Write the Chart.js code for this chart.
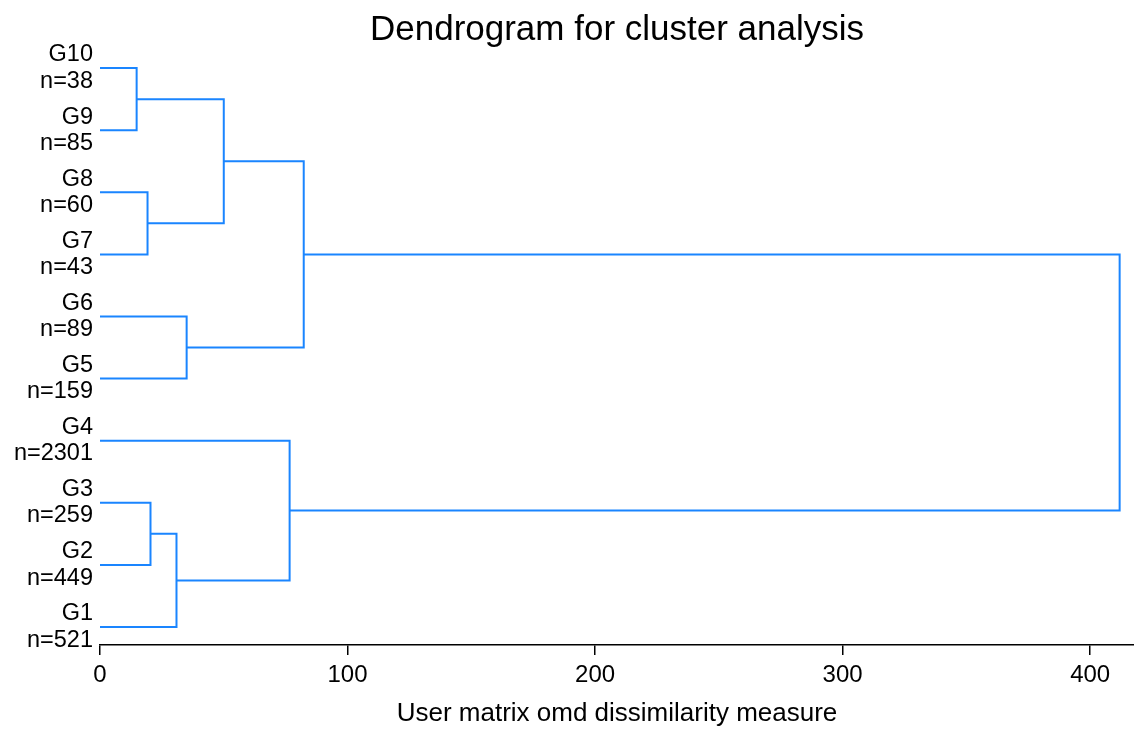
<!DOCTYPE html>
<html>
<head>
<meta charset="utf-8">
<title>Dendrogram for cluster analysis</title>
<script src="https://cdn.jsdelivr.net/npm/chart.js@4.4.1/dist/chart.umd.min.js"></script>
<style>
  html, body { margin: 0; padding: 0; background: #fff; }
  #wrap { width: 1134px; height: 729px; }
</style>
</head>
<body>
<div id="wrap"><canvas id="dendro"></canvas></div>
<script>
// leaves, bottom to top
const groups = ['G1', 'G2', 'G3', 'G4', 'G5', 'G6', 'G7', 'G8', 'G9', 'G10'];
const counts = [521, 449, 259, 2301, 159, 89, 43, 60, 85, 38];

// merges: node ids 0..9 are leaves, 10+ are clusters in merge order
const mergeA = [9, 7, 2, 12, 5, 10, 3, 15, 17];
const mergeB = [8, 6, 1, 0, 4, 11, 13, 14, 16];
const mergeHeight = [14.8, 19.2, 20.4, 30.9, 35.0, 50.0, 76.6, 82.3, 411.9];

const xTicks = [0, 100, 200, 300, 400];

const lineColor = 'rgb(26, 133, 255)';
const fontFamily = 'Liberation Sans, Arial, sans-serif';

// node position: height and vertical position (leaf = its rank)
const nodeH = groups.map(() => 0);
const nodeY = groups.map((g, i) => i + 1);

const datasets = [];
mergeA.forEach(function(a, k) {
    const b = mergeB[k];
    const h = mergeHeight[k];
    datasets.push({
        data: [
            { x: nodeH[a], y: nodeY[a] },
            { x: h, y: nodeY[a] },
            { x: h, y: nodeY[b] },
            { x: nodeH[b], y: nodeY[b] }
        ],
        showLine: true,
        borderColor: lineColor,
        borderWidth: 2,
        pointRadius: 0,
        tension: 0,
        clip: false
    });
    nodeH.push(h);
    nodeY.push((nodeY[a] + nodeY[b]) / 2);
});

const ctx = document.getElementById('dendro').getContext('2d');
const chart = new Chart(ctx, {
    type: 'scatter',
    data: { datasets: datasets },
    options: {
        responsive: true,
        maintainAspectRatio: false,
        animation: false,
        layout: { padding: 0 },
        plugins: {
            legend: { display: false },
            tooltip: { enabled: false },
            title: {
                display: true,
                fullSize: false,
                text: 'Dendrogram for cluster analysis',
                color: '#000',
                font: { family: fontFamily, size: 35, weight: 'normal', lineHeight: 1.2 },
                padding: { top: 9, bottom: 0 }
            }
        },
        scales: {
            x: {
                type: 'linear',
                min: 0,
                max: 417.7,
                afterBuildTicks: function(scale) {
                    scale.ticks = xTicks.map(v => ({ value: v }));
                },
                grid: {
                    drawOnChartArea: false,
                    drawTicks: true,
                    tickLength: 10,
                    color: '#000',
                    lineWidth: 1.5
                },
                border: { display: true, color: '#000', width: 1.5 },
                ticks: {
                    color: '#000',
                    padding: 6,
                    maxRotation: 0,
                    font: { family: fontFamily, size: 24 }
                },
                title: {
                    display: true,
                    text: 'User matrix omd dissimilarity measure',
                    color: '#000',
                    font: { family: fontFamily, size: 26, lineHeight: 1.2 },
                    padding: { top: 2, bottom: 0 }
                }
            },
            y: {
                type: 'linear',
                min: 0.71,
                max: 10.275,
                afterBuildTicks: function(scale) {
                    scale.ticks = groups.map((g, i) => ({ value: i + 1 }));
                },
                afterFit: function(scale) {
                    scale.width = 100;
                },
                grid: { display: false, drawTicks: false },
                border: { display: false },
                ticks: {
                    color: '#000',
                    padding: 7,
                    autoSkip: false,
                    font: { family: fontFamily, size: 23.5, lineHeight: 1.12 },
                    callback: function(value) {
                        const i = Math.round(value) - 1;
                        return [groups[i], 'n=' + counts[i]];
                    }
                }
            }
        }
    }
});
</script>
</body>
</html>
